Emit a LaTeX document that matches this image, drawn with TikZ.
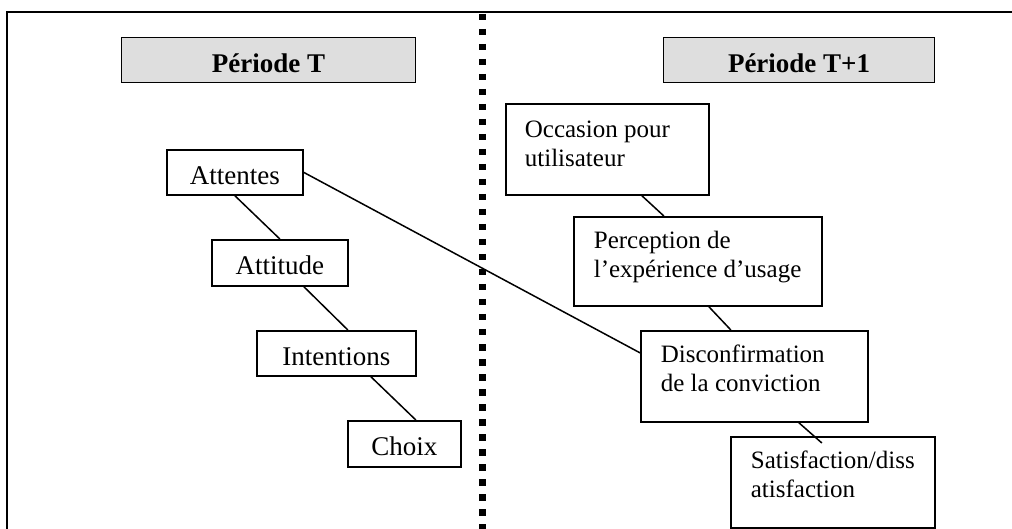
\documentclass[tikz,border=0pt]{standalone}
\usepackage{fontspec}
\setmainfont{Liberation Serif}
\newcommand{\boxtxt}[5]{\parbox[c][#2][t]{#1}{\raggedright\leftskip=#3\relax\rule{0pt}{#4}#5}}
\begin{document}
\begin{tikzpicture}[x=1pt,y=-1pt,
  frame/.style={line width=2pt},
  sepline/.style={line width=6.5pt, dash pattern=on 6.5pt off 8.5pt},
  titlebox/.style={draw, line width=1.7pt, fill=black!13, anchor=north west, inner sep=0pt, text height=25pt, text depth=0pt, font=\fontsize{27}{32}\selectfont\bfseries},
  lbox/.style={draw, line width=1.7pt, fill=white, anchor=north west, inner sep=0pt, text height=24pt, text depth=0pt, font=\fontsize{27}{32}\selectfont},
  rbox/.style={draw, line width=1.7pt, fill=white, anchor=north west, inner sep=0pt, font=\fontsize{25}{29}\selectfont},
  link/.style={line width=1.5pt}]
\useasboundingbox (0,0) rectangle (1012,529);
\fill[white] (0,0) rectangle (1012,529);
\draw[frame] (7,529) -- (7,12) -- (1012,12);
\draw[sepline] (482.5,14) -- (482.5,529);

\node[titlebox, minimum width=294pt, minimum height=45pt] (pt) at (120.7,36.7) {Période T};
\node[titlebox, minimum width=271pt, minimum height=45pt] (pt1) at (662.7,36.7) {Période T+1};

\node[lbox, minimum width=136pt, minimum height=45pt] (att) at (166,149) {Attentes};
\node[lbox, minimum width=136pt, minimum height=46pt] (atti) at (211,239) {Attitude};
\node[lbox, minimum width=159pt, minimum height=45pt] (int) at (256,330) {Intentions};
\node[lbox, minimum width=113pt, minimum height=46pt] (cho) at (347,420) {Choix};

\node[rbox] (occ) at (505,103) {\boxtxt{203pt}{91pt}{19pt}{34pt}{Occasion pour\\utilisateur}};
\node[rbox] (per) at (573,216) {\boxtxt{248pt}{89pt}{20pt}{32pt}{Perception de\\l’expérience d’usage}};
\node[rbox] (dis) at (640,330) {\boxtxt{227pt}{91pt}{20pt}{32pt}{Disconfirmation\\de la conviction}};
\node[rbox] (sat) at (730,436) {\boxtxt{204pt}{91pt}{20pt}{32pt}{Satisfaction/diss\\atisfaction}};

\draw[link] (att.south) -- (atti.north);
\draw[link] ([xshift=24pt]atti.south) -- ([xshift=11.5pt]int.north);
\draw[link] ([xshift=34.5pt]int.south) -- ([xshift=11.5pt]cho.north);
\draw[link] (att.east) -- ([yshift=23.5pt]dis.west);
\draw[link] ([xshift=34.5pt]occ.south) -- ([xshift=-34pt]per.north);
\draw[link] ([xshift=11pt]per.south) -- ([xshift=-23.5pt]dis.north);
\draw[link] ([xshift=44.5pt]dis.south) -- ([xshift=-11pt,yshift=-7pt]sat.north);
\end{tikzpicture}
\end{document}
